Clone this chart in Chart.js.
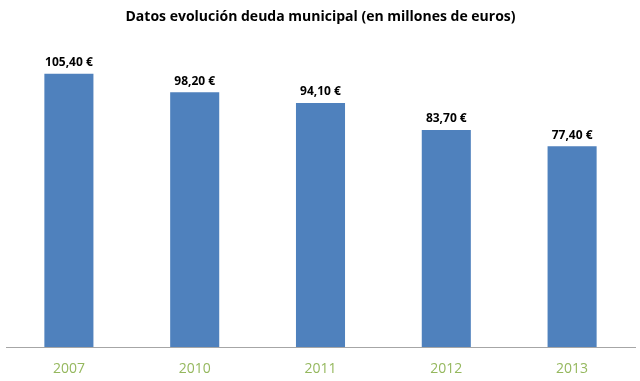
<!DOCTYPE html>
<html>
<head>
<meta charset="utf-8">
<script src="https://cdn.jsdelivr.net/npm/chart.js@4/dist/chart.umd.min.js"></script>
<style>
html,body{margin:0;padding:0;background:#fff;}
canvas{display:block;}
</style>
</head>
<body>
<canvas id="c" width="640" height="381"></canvas>
<script>
const categories = ["2007", "2010", "2011", "2012", "2013"];
const deuda = [105.4, 98.2, 94.1, 83.7, 77.4];
const titleText = "Datos evolución deuda municipal (en millones de euros)";

const fmt = v => v.toFixed(2).replace('.', ',') + ' €';

const labelPlugin = {
  id: 'valueLabels',
  afterDatasetsDraw(chart) {
    const ctx = chart.ctx;
    const meta = chart.getDatasetMeta(0);
    ctx.save();
    ctx.font = 'bold 12px "Open Sans", sans-serif';
    ctx.fillStyle = '#000';
    ctx.textAlign = 'center';
    ctx.textBaseline = 'bottom';
    meta.data.forEach((bar, i) => {
      ctx.fillText(fmt(deuda[i]), bar.x, bar.y - 5);
    });
    ctx.restore();
  }
};

new Chart(document.getElementById('c'), {
  type: 'bar',
  data: {
    labels: categories,
    datasets: [{
      data: deuda,
      backgroundColor: '#4F81BD',
      barPercentage: 0.78,
      categoryPercentage: 0.5
    }]
  },
  options: {
    responsive: false,
    animation: false,
    layout: { padding: { left: 6, right: 5, top: 0, bottom: 0 } },
    plugins: {
      legend: { display: false },
      tooltip: { enabled: false },
      title: {
        display: true,
        text: titleText,
        color: '#000',
        font: { family: '"Open Sans", sans-serif', size: 14, weight: 'bold' },
        padding: { top: 9, bottom: 10 }
      }
    },
    scales: {
      y: { display: false, min: 0, max: 120 },
      x: {
        grid: { display: false, drawTicks: false },
        border: { display: true, color: '#A6A6A6', width: 1 },
        ticks: {
          color: '#95B85E',
          font: { family: '"Open Sans", sans-serif', size: 14 },
          padding: 14
        },
        afterFit(scale) { scale.height = 34; }
      }
    }
  },
  plugins: [labelPlugin]
});
</script>
</body>
</html>
